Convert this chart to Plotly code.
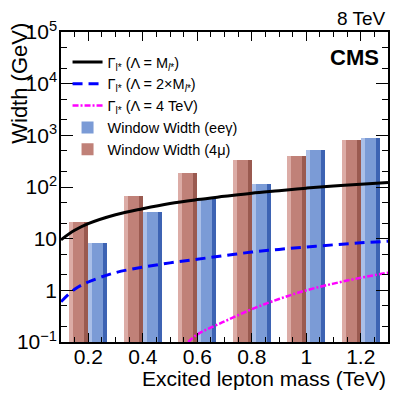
import plotly.graph_objects as go

# excited lepton masses (TeV) for the window-width bars
masses = [0.2, 0.4, 0.6, 0.8, 1.0, 1.2]
width_eeg = [8.3, 33, 59, 115, 510, 880]
width_4mu = [21, 67, 187, 330, 390, 800]

# decay width curves
curve_mass = [0.1, 0.15, 0.2, 0.3, 0.4, 0.5, 0.6, 0.7, 0.8, 0.9, 1.0, 1.1, 1.2, 1.3]
gamma_lam_m = [9.5, 14.5, 19.5, 29, 38, 48, 57, 66, 76, 85, 95, 104, 113, 122]
gamma_lam_2m = [0.6, 1.05, 1.45, 2.2, 2.8, 3.4, 4.0, 4.7, 5.5, 6.2, 6.9, 7.6, 8.3, 8.9]

curve4_mass = [0.567, 0.6, 0.7, 0.8, 0.9, 1.0, 1.1, 1.2, 1.3]
gamma_lam_4tev = [0.1, 0.14, 0.25, 0.43, 0.68, 1.0, 1.35, 1.75, 2.2]

y_tickvals = [0.1, 1, 10, 100, 1000, 10000, 100000]
y_ticktext = ['10<sup>\u22121</sup>', '1', '10', '10<sup>2</sup>', '10<sup>3</sup>',
              '10<sup>4</sup>', '10<sup>5</sup>']
x_tickvals = [0.2, 0.4, 0.6, 0.8, 1.0, 1.2]
x_ticktext = ['0.2', '0.4', '0.6', '0.8', '1', '1.2']

FONT = 'Liberation Sans, Arial, sans-serif'
BW = 0.07
STRIP = 0.015
X_RANGE = [0.1, 1.3]
Y_RANGE = [-1, 5]


def bar_set(values, offset, main, light, dark, name, rank):
    return [
        go.Bar(x=masses, y=values, width=BW, offset=offset, name=name, legendrank=rank,
               marker=dict(color=main, line=dict(width=0))),
        go.Bar(x=masses, y=values, width=STRIP, offset=offset, showlegend=False,
               marker=dict(color=light, line=dict(width=0)), hoverinfo='skip'),
        go.Bar(x=masses, y=values, width=STRIP, offset=offset + BW - STRIP, showlegend=False,
               marker=dict(color=dark, line=dict(width=0)), hoverinfo='skip'),
    ]


fig = go.Figure()

for t in bar_set(width_eeg, 0.0, '#7b9bd6', '#aabfe8', '#3d63b3', 'Window Width (ee\u03b3)', 4):
    fig.add_trace(t)
for t in bar_set(width_4mu, -BW, '#c08178', '#dcaca6', '#9a5a50', 'Window Width (4\u03bc)', 5):
    fig.add_trace(t)

fig.add_trace(go.Scatter(x=curve_mass, y=gamma_lam_m, mode='lines', line_shape='spline',
                         name='\u0393<sub>l*</sub> (\u039b = M<sub><i>l</i>*</sub>)', legendrank=1,
                         line=dict(color='black', width=3)))
fig.add_trace(go.Scatter(x=curve_mass, y=gamma_lam_2m, mode='lines', line_shape='spline',
                         name='\u0393<sub>l*</sub> (\u039b = 2\u00d7M<sub><i>l</i>*</sub>)', legendrank=2,
                         line=dict(color='#0000ff', width=3, dash='10px,6px')))
fig.add_trace(go.Scatter(x=curve4_mass, y=gamma_lam_4tev, mode='lines', line_shape='spline',
                         name='\u0393<sub>l*</sub> (\u039b = 4 TeV)', legendrank=3,
                         line=dict(color='#ff00ff', width=2.5, dash='6px,2px,2px,2px')))

# empty trace so the mirrored (top/right) axes get drawn with their minor ticks
fig.add_trace(go.Scatter(x=[], y=[], xaxis='x2', yaxis='y2', showlegend=False, hoverinfo='skip'))

axis_common = dict(showline=True, linecolor='black', linewidth=1.5,
                   ticks='inside', tickcolor='black', showgrid=False, zeroline=False,
                   automargin=False,
                   tickfont=dict(family=FONT, size=21, color='black'))
x_minor = dict(ticks='inside', dtick=0.05, tick0=0, ticklen=5, tickcolor='black')
y_minor = dict(ticks='inside', ticklen=6, tickcolor='black')

# the page body adds an 8 px offset, so the figure is sized to fit the window
fig.update_layout(
    width=399, height=385,
    margin=dict(l=53, r=19, t=24, b=51),
    plot_bgcolor='white', paper_bgcolor='white',
    barmode='overlay', bargap=0,
    font=dict(family=FONT, color='black'),
    xaxis=dict(range=X_RANGE, tickvals=x_tickvals, ticktext=x_ticktext, ticklen=9,
               ticklabelstandoff=-5, minor=x_minor, **axis_common),
    yaxis=dict(type='log', range=Y_RANGE, tickvals=y_tickvals, ticktext=y_ticktext, ticklen=12,
               ticklabelstandoff=-2, minor=y_minor, **axis_common),
    xaxis2=dict(range=X_RANGE, overlaying='x', side='top', tickvals=x_tickvals, ticklen=9,
                showticklabels=False, minor=x_minor, **axis_common),
    yaxis2=dict(type='log', range=Y_RANGE, overlaying='y', side='right', tickvals=y_tickvals,
                ticklen=12, showticklabels=False, minor=y_minor, **axis_common),
    legend=dict(x=0.02, y=0.955, xanchor='left', yanchor='top', bgcolor='rgba(0,0,0,0)',
                font=dict(family=FONT, size=14.5, color='black'), tracegroupgap=0,
                itemwidth=30),
    showlegend=True,
    annotations=[
        dict(text='Width (GeV)', xref='paper', yref='paper', x=-0.125, y=1.035,
             xanchor='center', yanchor='top', textangle=-90, showarrow=False,
             font=dict(family=FONT, size=22)),
        dict(text='Excited lepton mass (TeV)', xref='paper', yref='paper', x=1.0, y=-0.118,
             xanchor='right', yanchor='middle', showarrow=False,
             font=dict(family=FONT, size=21)),
        dict(text='8 TeV', xref='paper', yref='paper', x=1.0, y=1.045,
             xanchor='right', yanchor='middle', showarrow=False,
             font=dict(family=FONT, size=19)),
        dict(text='<b>CMS</b>', xref='paper', yref='paper', x=0.98, y=0.918,
             xanchor='right', yanchor='middle', showarrow=False,
             font=dict(family=FONT, size=22)),
    ],
)

fig.write_html('out.html')
